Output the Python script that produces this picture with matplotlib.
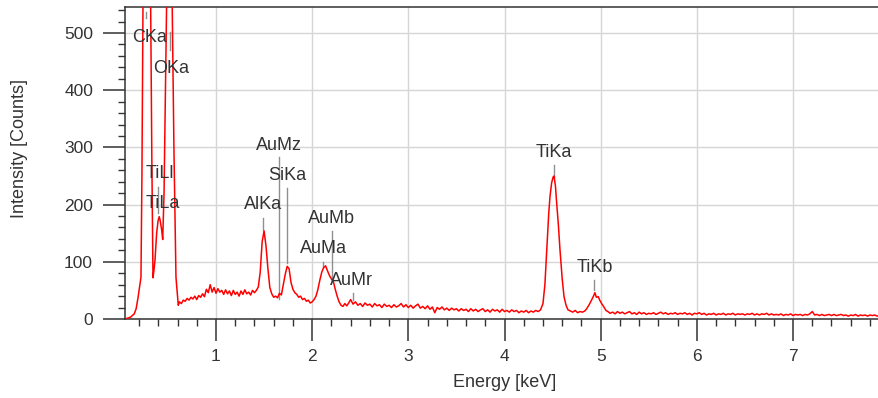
import numpy as np
import matplotlib
matplotlib.use("Agg")
import matplotlib.pyplot as plt
from matplotlib.ticker import MultipleLocator

# ---------------- data ----------------
# low-energy region: rise, C Ka, Ti L, O Ka
e_low = [0.054, 0.07, 0.09, 0.11, 0.13, 0.15, 0.17, 0.19, 0.205, 0.22,
         0.23, 0.241, 0.26, 0.28, 0.30, 0.321, 0.333, 0.345, 0.355, 0.366,
         0.383, 0.398, 0.41, 0.42, 0.435, 0.446, 0.46, 0.475, 0.487, 0.505,
         0.525, 0.545, 0.563, 0.584, 0.608]
c_low = [0, 1, 2, 3, 6, 9, 18, 38, 55, 73,
         250, 545, 1150, 1400, 1100, 545, 280, 72, 85, 103,
         150, 172, 179, 172, 156, 139, 220, 400, 545, 1300,
         1600, 545, 295, 73, 24]

# background 0.62 - 1.40 keV
e_bg1 = [0.62, 0.64, 0.66, 0.68, 0.70, 0.72, 0.74, 0.76, 0.78, 0.80,
         0.82, 0.84, 0.86, 0.88, 0.90, 0.92, 0.94, 0.96, 0.98, 1.00,
         1.02, 1.04, 1.06, 1.08, 1.10, 1.12, 1.14, 1.16, 1.18, 1.20,
         1.22, 1.24, 1.26, 1.28, 1.30, 1.32, 1.34, 1.36, 1.38, 1.40]
c_bg1 = [30, 27, 33, 31, 36, 33, 38, 35, 40, 34,
         41, 38, 44, 39, 52, 46, 60, 47, 55, 45,
         53, 47, 50, 43, 51, 44, 49, 41, 50, 43,
         47, 40, 49, 43, 51, 44, 47, 42, 50, 46]

# Al Ka, Si Ka, Au M region
e_mid = [1.42, 1.44, 1.46, 1.48, 1.50, 1.52, 1.54, 1.56, 1.58, 1.60,
         1.62, 1.64, 1.66, 1.68, 1.70, 1.72, 1.74, 1.76, 1.78, 1.80,
         1.82, 1.84, 1.86, 1.88, 1.90, 1.92, 1.94, 1.96, 1.98, 2.00,
         2.02, 2.04, 2.06, 2.08, 2.10, 2.12, 2.14, 2.16, 2.18, 2.20,
         2.22, 2.24, 2.26, 2.28, 2.30, 2.32, 2.34, 2.36, 2.38, 2.40]
c_mid = [50, 56, 82, 135, 154, 128, 88, 55, 44, 38,
         40, 37, 45, 42, 60, 78, 92, 88, 64, 52,
         46, 43, 38, 40, 34, 36, 31, 33, 28, 30,
         34, 40, 52, 68, 82, 90, 93, 84, 76, 70,
         66, 52, 40, 30, 24, 22, 27, 23, 28, 34]

# background 2.4 - 4.4 keV
e_bg2 = [2.425, 2.45, 2.475, 2.50, 2.525, 2.55, 2.575, 2.60, 2.625, 2.65,
         2.675, 2.70, 2.725, 2.75, 2.775, 2.80, 2.825, 2.85, 2.875, 2.90,
         2.925, 2.95, 2.975, 3.00, 3.025, 3.05, 3.075, 3.10, 3.125, 3.15,
         3.175, 3.20, 3.225, 3.25, 3.275, 3.30, 3.325, 3.35, 3.375, 3.40,
         3.425, 3.45, 3.475, 3.50, 3.525, 3.55, 3.575, 3.60, 3.625, 3.65,
         3.675, 3.70, 3.725, 3.75, 3.775, 3.80, 3.825, 3.85, 3.875, 3.90,
         3.925, 3.95, 3.975, 4.00, 4.025, 4.05, 4.075, 4.10, 4.125, 4.15,
         4.175, 4.20, 4.225, 4.25, 4.275, 4.30, 4.325, 4.35, 4.375]
c_bg2 = [26, 30, 24, 27, 22, 28, 24, 26, 21, 27,
         23, 25, 20, 26, 22, 24, 20, 25, 21, 23,
         27, 21, 25, 20, 24, 19, 23, 26, 19, 22,
         18, 23, 17, 21, 11, 20, 17, 21, 16, 19,
         15, 19, 16, 18, 14, 18, 15, 17, 13, 18,
         14, 17, 13, 16, 18, 13, 16, 12, 17, 14,
         16, 12, 17, 13, 15, 12, 16, 13, 15, 11,
         14, 12, 15, 11, 14, 12, 15, 13, 16]

# Ti Ka / Ti Kb region
e_ti = [4.40, 4.42, 4.44, 4.46, 4.473, 4.49, 4.505, 4.515, 4.53, 4.54,
        4.56, 4.577, 4.60, 4.619, 4.64, 4.66, 4.685, 4.71, 4.735, 4.76,
        4.785, 4.81, 4.835, 4.855, 4.88, 4.905, 4.925, 4.94, 4.955, 4.975,
        4.99, 5.01, 5.03, 5.055, 5.075, 5.097]
c_ti = [27, 60, 121, 185, 214, 238, 248, 250, 232, 208,
        165, 121, 70, 39, 24, 16, 14, 12, 15, 11,
        13, 12, 14, 18, 25, 33, 40, 46, 38, 39,
        33, 27, 22, 15, 13, 10]

# background 5.1 - 7.9 keV
e_bg3 = [5.125, 5.15, 5.175, 5.20, 5.225, 5.25, 5.275, 5.30, 5.325, 5.35,
         5.375, 5.40, 5.425, 5.45, 5.475, 5.50, 5.525, 5.55, 5.575, 5.60,
         5.625, 5.65, 5.675, 5.70, 5.725, 5.75, 5.775, 5.80, 5.825, 5.85,
         5.875, 5.90, 5.925, 5.95, 5.975, 6.00, 6.025, 6.05, 6.075, 6.10,
         6.125, 6.15, 6.175, 6.20, 6.225, 6.25, 6.275, 6.30, 6.325, 6.35,
         6.375, 6.40, 6.425, 6.45, 6.475, 6.50, 6.525, 6.55, 6.575, 6.60,
         6.625, 6.65, 6.675, 6.70, 6.725, 6.75, 6.775, 6.80, 6.825, 6.85,
         6.875, 6.90, 6.925, 6.95, 6.975, 7.00, 7.025, 7.05, 7.075, 7.10,
         7.125, 7.15, 7.175, 7.20, 7.225, 7.25, 7.275, 7.30, 7.325, 7.35,
         7.375, 7.40, 7.425, 7.45, 7.475, 7.50, 7.525, 7.55, 7.575, 7.60,
         7.625, 7.65, 7.675, 7.70, 7.725, 7.75, 7.775, 7.80, 7.825, 7.85,
         7.875, 7.90]
c_bg3 = [12, 9, 13, 10, 12, 9, 11, 13, 9, 11,
         8, 12, 9, 11, 8, 10, 9, 11, 8, 10,
         12, 9, 11, 8, 10, 9, 11, 8, 10, 9,
         11, 8, 10, 7, 10, 9, 11, 8, 10, 7,
         9, 8, 10, 7, 9, 8, 10, 7, 9, 8,
         10, 7, 9, 8, 9, 7, 9, 8, 10, 7,
         9, 7, 9, 8, 10, 7, 9, 7, 8, 7,
         9, 6, 8, 7, 9, 6, 8, 7, 8, 6,
         8, 7, 9, 13, 7, 8, 6, 8, 6, 7,
         8, 6, 8, 6, 7, 8, 6, 7, 5, 7,
         6, 8, 5, 7, 6, 7, 5, 7, 6, 7,
         5, 6]

# peak identification labels
peak_names = ["CKa", "OKa", "TiLl", "TiLa", "AlKa", "AuMz", "SiKa",
              "AuMb", "AuMa", "AuMr", "TiKa", "TiKb"]
label_x = [0.314, 0.532, 0.418, 0.444, 1.494, 1.655, 1.743,
           2.206, 2.118, 2.409, 4.515, 4.936]
label_y = [484, 430, 246, 194, 192, 295, 243, 168, 115, 59, 283, 82]

# marker lines (energy, top, bottom in counts)
marker_e = [0.277, 0.525, 0.40, 1.486, 1.66, 1.74, 2.21, 2.116, 2.42, 4.51, 4.93]
marker_top = [537, 502, 231, 177, 283, 229, 153, 100, 45, 269, 68]
marker_bot = [527, 470, 185, 156, 35, 98, 68, 91, 33, 248, 51]

xticks = [1, 2, 3, 4, 5, 6, 7]
yticks = [0, 100, 200, 300, 400, 500]

# ---------------- plot ----------------
segs_e = [e_low, e_bg1, e_mid, e_bg2, e_ti, e_bg3]
segs_c = [c_low, c_bg1, c_mid, c_bg2, c_ti, c_bg3]
for a, b in zip(segs_e, segs_c):
    assert len(a) == len(b), (len(a), len(b))
energy = np.concatenate([np.array(s, float) for s in segs_e])
counts = np.concatenate([np.array(s, float) for s in segs_c])

plt.rcParams['font.family'] = ['Liberation Sans', 'DejaVu Sans']
txt = '#333333'

fig = plt.figure(figsize=(8.79, 3.98), dpi=100)
ax = fig.add_axes([125 / 879, 79 / 398, 754 / 879, 312 / 398])

ax.grid(True, which='major', color='#d6d6d6', lw=1.0, zorder=0)
ax.set_axisbelow(True)

for e, t, b in zip(marker_e, marker_top, marker_bot):
    ax.plot([e, e], [b, t], color='#8f8f8f', lw=1.0, zorder=2)

ax.plot(energy, counts, color='#ff0000', lw=1.1, zorder=3, clip_on=True)

for name, x, y in zip(peak_names, label_x, label_y):
    ax.text(x, y, name, ha='center', va='baseline', fontsize=13,
            color=txt, zorder=4)

ax.set_xlim(0.054, 7.894)
ax.set_ylim(0, 545.5)
ax.set_xticks(xticks)
ax.set_yticks(yticks)
ax.xaxis.set_minor_locator(MultipleLocator(0.2))
ax.yaxis.set_minor_locator(MultipleLocator(20))

ax.tick_params(which='major', direction='out', length=15.5, width=1.1,
               color=txt, labelcolor=txt, labelsize=12.5)
ax.tick_params(axis='x', which='major', pad=6)
ax.tick_params(axis='y', which='major', pad=7.5)
ax.tick_params(which='minor', direction='out', length=5, width=1.0, color=txt)

for s in ['left', 'bottom', 'top']:
    ax.spines[s].set_color(txt)
    ax.spines[s].set_linewidth(1.1)
ax.spines['right'].set_visible(False)

ax.set_xlabel('Energy [keV]', fontsize=13, color=txt)
ax.set_ylabel('Intensity [Counts]', fontsize=13, color=txt)
ax.xaxis.set_label_coords(0.504, -0.176)
ax.yaxis.set_label_coords(-0.1286, 0.545)

fig.savefig('out.png', dpi=100)
